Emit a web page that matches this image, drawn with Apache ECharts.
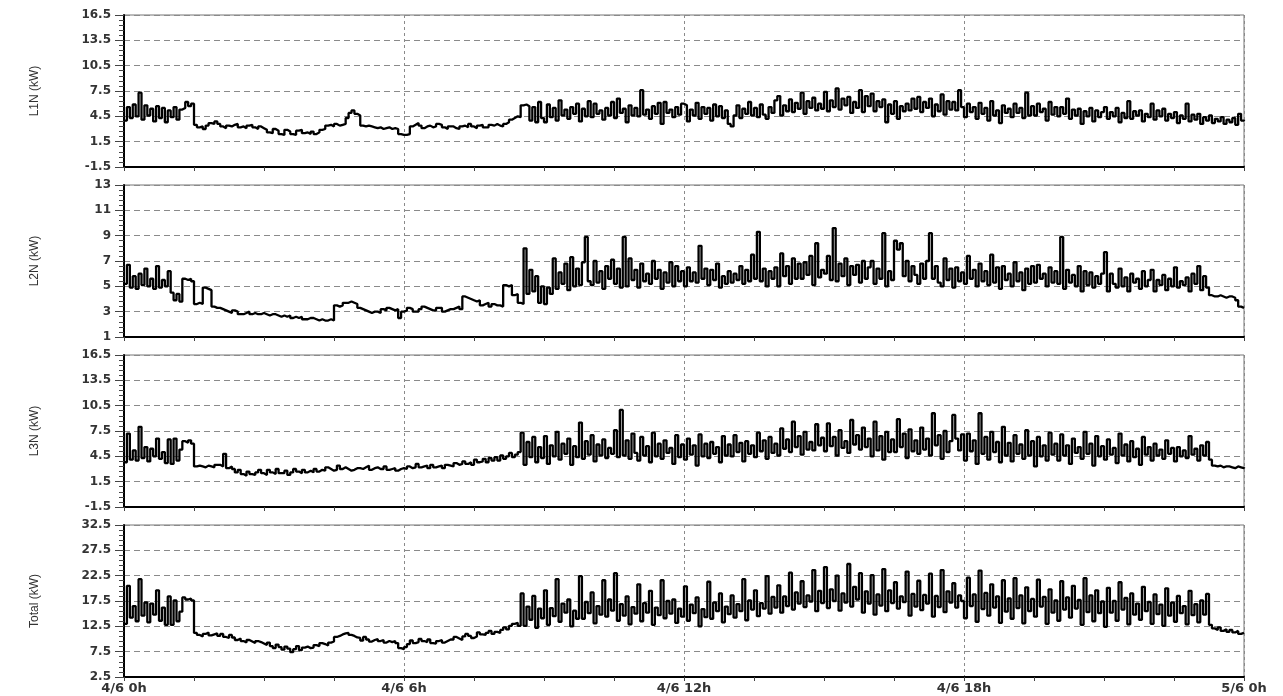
<!DOCTYPE html>
<html>
<head>
<meta charset="utf-8">
<script src="https://cdn.jsdelivr.net/npm/echarts@6/dist/echarts.min.js"></script>
<style>
html,body{margin:0;padding:0;background:#fff;}
#chart{width:1283px;height:696px;}
</style>
</head>
<body>
<div id="chart"></div>
<script>
// x tick labels (hours 0,6,12,18,24)
const xTickHours = [0, 6, 12, 18, 24];
const xTickLabels = ['4/6 0h', '4/6 6h', '4/6 12h', '4/6 18h', '5/6 0h'];
const panelNames = ['L1N (kW)', 'L2N (kW)', 'L3N (kW)', 'Total (kW)'];
const yMins = [-1.5, 1, -1.5, 2.5];
const yMaxs = [16.5, 13, 16.5, 32.5];
const yIntervals = [3, 2, 3, 5];
const samplesPerHour = 16;

const l1n = [
 4.0,5.6,4.3,5.9,4.5,7.3,4.1,5.8,4.6,5.4,3.9,5.7,4.3,5.5,3.8,5.2,
 4.4,5.6,4.1,5.3,5.5,6.2,5.7,6.0,3.5,3.2,3.3,3.0,3.4,3.7,3.6,3.9,
 3.6,3.3,3.1,3.4,3.3,3.5,3.6,3.2,3.3,3.1,3.4,3.5,3.2,3.0,3.3,3.1,
 2.9,2.6,2.5,3.0,2.8,2.4,2.3,2.9,2.7,2.4,2.3,2.8,2.9,2.5,2.6,2.4,
 2.7,2.4,2.6,2.9,3.0,3.4,3.5,3.3,3.6,3.4,3.5,3.6,4.3,4.9,5.2,4.8,
 4.6,3.4,3.3,3.4,3.3,3.2,3.1,3.2,3.0,3.1,3.2,3.0,3.1,3.0,2.4,2.3,
 2.3,2.4,3.3,3.5,3.7,3.4,3.1,3.3,3.4,3.2,3.3,3.6,3.5,3.2,3.0,3.3,
 3.3,3.1,3.0,3.3,3.4,3.2,3.6,3.3,3.1,3.4,3.5,3.2,3.2,3.5,3.4,3.6,
 3.4,3.3,3.6,3.8,4.1,4.3,4.5,4.4,5.8,5.9,5.7,4.0,5.6,3.8,6.2,4.3,
 3.8,5.9,4.4,5.5,4.0,6.4,4.6,5.3,4.2,5.6,4.8,6.0,3.9,5.4,4.5,6.3,
 4.4,6.0,4.8,5.2,4.1,5.5,4.6,6.2,4.3,6.6,4.9,5.4,3.8,5.8,4.6,5.5,
 4.5,7.6,4.7,5.3,4.2,5.7,4.8,6.1,3.6,6.2,4.9,5.3,4.4,5.6,4.7,6.0,
 5.8,3.9,5.3,4.6,6.1,4.2,5.6,4.8,5.5,4.0,5.9,4.5,5.7,4.3,5.2,3.6,
 3.3,4.6,5.8,4.3,5.4,4.8,6.2,4.6,5.5,4.4,5.9,4.7,4.2,5.6,4.9,6.4,
 6.9,4.6,5.8,5.1,6.5,5.0,6.1,5.4,7.3,4.8,6.3,5.5,6.7,5.2,6.0,5.4,
 7.4,5.1,6.4,5.6,7.8,5.3,6.6,5.8,6.8,4.9,6.2,5.5,7.6,5.0,6.9,5.7,
 7.2,5.1,6.3,5.6,6.5,3.8,5.9,4.8,6.3,4.2,5.7,5.1,6.0,5.2,6.6,5.4,
 6.8,5.0,6.2,5.5,6.6,4.5,5.9,5.1,7.1,4.7,6.3,5.3,6.2,5.2,7.6,5.6,
 4.4,6.0,5.0,5.6,4.2,6.1,4.8,5.5,4.0,6.3,4.6,5.2,3.7,5.8,4.9,5.4,
 4.4,6.0,4.9,5.5,4.3,7.3,4.6,5.7,4.6,6.0,5.0,5.4,4.0,6.2,4.7,5.6,
 4.5,5.6,4.8,6.6,4.2,5.3,4.6,5.4,3.6,5.1,4.5,5.5,3.9,5.2,4.4,5.0,
 5.6,4.2,5.0,4.5,5.5,3.8,4.9,4.3,6.3,4.2,5.1,4.6,5.2,3.9,4.8,4.4,
 6.0,4.1,5.2,4.5,5.4,4.0,4.8,4.3,5.0,3.7,4.6,4.2,6.0,3.9,4.7,4.1,
 4.8,3.6,4.4,4.0,4.6,3.7,4.2,3.9,4.4,3.6,4.1,3.8,4.3,3.5,4.8,4.0,
 4.1
];
const l2n = [
 5.2,6.7,4.9,5.8,4.8,6.0,5.1,6.4,5.0,5.6,4.8,6.6,4.9,5.5,5.0,6.2,
 4.5,3.9,4.4,3.8,5.6,5.5,5.6,5.4,3.6,3.7,3.6,4.9,4.8,4.7,3.4,3.3,
 3.3,3.2,3.1,3.0,2.9,3.1,3.0,2.8,2.8,2.9,3.0,2.8,2.9,2.8,2.8,2.9,
 2.8,2.7,2.8,2.8,2.7,2.6,2.7,2.6,2.7,2.5,2.6,2.5,2.6,2.4,2.4,2.5,
 2.5,2.4,2.3,2.4,2.3,2.3,2.4,2.3,3.5,3.4,3.5,3.7,3.7,3.8,3.7,3.6,
 3.3,3.2,3.1,3.0,2.9,3.0,3.0,2.9,3.2,3.1,3.3,3.2,3.1,3.2,2.5,3.0,
 3.1,3.3,3.2,3.0,3.0,3.2,3.4,3.3,3.2,3.1,3.1,3.3,3.3,3.0,3.1,3.2,
 3.2,3.3,3.4,3.2,4.2,4.1,4.0,3.9,3.8,3.9,3.5,3.6,3.7,3.4,3.6,3.5,
 3.5,3.4,5.1,5.0,5.1,4.3,4.4,3.7,3.6,8.0,4.4,6.3,4.6,5.8,3.7,5.0,
 3.6,4.9,4.4,7.2,4.8,6.1,5.2,6.8,4.7,7.3,5.0,6.4,5.1,6.9,8.9,5.4,
 5.1,7.0,5.3,6.2,4.8,6.6,5.6,7.1,5.2,6.4,4.9,8.9,5.0,7.2,5.5,6.3,
 4.9,6.8,5.4,6.0,5.2,7.0,5.6,6.3,4.8,6.1,5.3,6.9,5.0,6.6,5.4,6.2,
 5.0,6.5,5.4,6.1,5.3,8.2,5.6,6.4,5.1,6.3,5.5,6.8,4.9,5.8,5.2,6.2,
 5.3,6.0,5.5,6.6,5.2,6.3,5.4,7.5,5.6,9.3,5.4,6.4,5.0,6.2,5.6,6.5,
 5.0,7.6,5.8,6.6,5.2,7.2,5.6,6.8,5.6,6.9,5.9,7.4,5.1,8.4,5.7,6.3,
 6.0,7.4,5.5,9.6,5.4,6.8,5.8,7.2,5.1,6.6,5.9,6.7,5.3,7.0,5.6,6.5,
 7.0,5.2,6.4,5.6,9.2,5.0,6.2,5.5,8.6,7.9,8.4,5.8,7.0,5.4,6.6,5.9,
 5.2,6.8,5.6,7.0,9.2,5.6,6.6,5.3,5.0,7.2,5.5,6.4,4.9,6.5,5.4,6.1,
 5.2,7.4,5.6,6.3,5.0,6.8,5.4,6.2,5.1,7.5,5.3,6.5,4.8,6.6,5.5,6.0,
 5.0,6.9,5.4,6.1,4.7,6.4,5.2,6.6,5.3,6.7,5.6,6.0,5.0,6.5,5.3,6.2,
 5.2,8.9,4.8,6.3,5.3,5.9,5.0,6.6,4.6,6.2,5.1,6.1,4.9,5.8,5.2,6.0,
 7.7,4.6,6.0,5.2,4.9,6.4,5.0,5.7,4.6,6.0,5.3,5.6,4.8,6.2,5.0,5.5,
 6.3,4.6,5.5,5.1,5.9,4.7,5.6,5.0,6.5,4.9,5.4,5.1,5.7,4.6,6.0,5.2,
 6.6,4.7,5.8,4.9,4.3,4.2,4.2,4.3,4.2,4.1,4.2,4.2,4.1,3.9,3.4,3.3,
 3.3
];
const l3n = [
 3.8,7.2,4.1,5.2,4.0,8.0,4.3,5.6,3.9,5.4,4.5,6.6,4.2,5.0,3.7,6.5,
 3.6,6.6,4.0,5.3,6.3,6.1,6.4,6.0,3.3,3.4,3.3,3.2,3.4,3.3,3.2,3.5,
 3.5,3.3,4.8,3.1,3.3,3.0,2.6,2.9,2.4,2.2,2.7,2.4,2.3,2.6,2.9,2.5,
 2.3,2.9,2.6,2.4,3.0,2.5,2.5,2.8,2.3,2.6,3.0,2.7,2.5,2.9,2.6,2.8,
 2.6,3.0,2.7,2.9,2.8,3.2,3.0,2.8,2.9,3.4,3.0,3.2,3.0,2.8,2.9,3.1,
 3.1,3.0,3.2,3.4,2.9,3.1,3.2,3.0,3.0,3.3,2.9,3.0,3.1,2.8,3.0,3.1,
 3.0,3.3,3.1,3.2,3.6,3.2,3.3,3.4,3.1,3.5,3.2,3.3,3.4,3.1,3.5,3.4,
 3.3,3.7,3.5,3.6,3.9,3.6,3.8,3.5,4.1,3.8,3.9,4.2,3.8,4.3,4.0,4.4,
 4.0,4.6,4.2,4.5,4.9,4.4,4.7,5.0,7.3,3.5,6.2,4.4,6.8,3.8,5.6,4.3,
 6.9,3.6,5.8,4.5,7.4,4.1,6.0,4.8,6.6,3.5,5.7,4.4,8.5,4.2,6.3,4.7,
 7.0,3.9,5.9,4.6,6.5,4.3,5.5,4.8,7.6,4.4,10.0,4.6,6.4,4.2,7.2,4.9,
 4.0,6.8,4.6,5.7,3.8,7.3,4.5,6.0,4.2,6.4,4.9,5.5,3.6,7.0,4.4,5.9,
 4.1,6.6,4.7,5.8,3.4,7.1,4.5,6.0,4.3,6.2,4.8,5.6,3.8,6.9,4.6,5.9,
 4.5,7.0,5.0,6.1,3.9,6.3,4.8,5.8,4.4,7.3,5.1,6.4,4.2,6.8,4.9,6.0,
 4.6,7.8,5.4,6.5,5.0,8.6,5.6,6.9,4.7,7.4,5.3,6.2,5.2,8.3,5.8,6.7,
 5.1,8.4,5.7,6.8,4.6,7.6,5.5,6.3,4.9,8.8,5.9,7.0,5.3,7.9,5.6,6.6,
 4.5,8.6,5.2,6.9,4.1,7.4,5.0,6.5,5.0,8.9,5.6,7.2,4.3,7.7,5.1,6.4,
 4.8,7.9,5.3,6.6,4.6,9.6,5.8,7.0,4.2,7.5,5.0,6.3,9.4,6.6,5.2,7.1,
 4.0,7.2,5.1,6.4,3.6,9.6,4.8,6.8,4.1,7.4,5.0,6.2,3.8,8.0,4.6,6.1,
 3.9,7.0,4.8,5.9,4.2,7.6,4.6,6.3,3.3,6.8,4.5,5.8,4.0,7.3,4.7,6.0,
 4.0,7.1,4.6,5.8,3.6,6.6,4.9,5.6,4.2,7.4,4.8,6.0,3.4,6.9,4.5,5.7,
 4.1,6.5,4.7,5.5,3.7,7.2,4.6,5.9,3.9,6.3,4.4,5.4,3.5,6.8,4.7,5.6,
 4.0,6.0,4.6,5.3,4.2,6.4,4.8,5.5,3.9,5.6,4.5,5.2,4.3,6.9,4.7,5.4,
 4.0,5.8,4.6,6.2,4.1,3.4,3.3,3.4,3.2,3.3,3.3,3.2,3.1,3.3,3.2,3.1,
 3.2
];
const total = [
 13.0,20.5,14.2,16.5,13.5,21.8,14.6,17.2,13.3,17.0,14.8,19.6,13.6,16.2,12.8,18.4,
 12.8,17.6,13.5,15.4,18.2,17.8,18.0,17.6,11.2,10.8,10.5,11.0,11.3,10.7,10.9,11.1,
 10.6,11.0,10.4,10.2,10.8,10.3,9.8,10.1,9.6,9.3,9.8,9.5,9.2,9.6,9.4,9.1,
 8.8,9.3,8.6,8.2,8.9,8.4,7.9,8.5,8.1,7.4,8.0,8.6,7.8,8.3,8.5,8.2,
 8.3,8.8,8.6,9.2,9.0,8.7,9.3,9.5,10.4,10.6,10.9,11.1,11.2,10.8,10.6,10.3,
 10.2,9.7,10.4,9.9,9.5,9.8,10.0,9.6,9.8,9.3,9.6,9.4,9.6,9.2,8.2,8.0,
 8.4,9.0,9.7,9.2,9.4,10.0,9.6,9.4,9.9,9.2,9.1,9.6,9.8,9.3,9.6,9.9,
 9.9,10.4,10.1,9.8,10.5,11.0,10.6,10.2,10.5,11.3,10.9,10.8,11.2,11.6,11.0,11.4,
 11.2,11.8,12.3,11.9,12.6,13.0,13.2,12.6,19.0,12.6,16.4,13.8,18.5,12.2,16.0,14.1,
 19.6,12.8,16.1,14.5,21.8,13.4,17.0,15.2,17.8,12.5,15.6,14.0,22.4,14.0,17.3,15.1,
 19.2,13.1,16.5,14.8,21.6,14.4,17.8,15.6,23.0,13.6,16.9,14.6,18.4,12.9,16.3,15.0,
 20.8,13.5,17.1,15.2,19.5,12.8,16.2,14.7,21.6,14.1,17.5,15.0,17.8,13.2,16.0,14.4,
 20.4,13.6,16.8,15.1,18.2,12.5,15.9,14.3,21.3,14.0,17.2,15.5,19.0,13.3,16.4,14.9,
 18.6,14.2,16.9,15.5,21.8,13.7,17.6,15.8,19.6,14.5,17.1,16.0,22.4,15.0,18.3,16.2,
 20.6,15.2,18.4,16.5,23.1,15.8,19.2,17.0,21.4,16.3,18.6,17.4,23.6,15.5,19.5,17.1,
 24.2,16.1,19.8,17.5,22.5,15.6,19.0,17.2,24.8,16.4,20.3,17.8,23.0,15.2,19.4,17.0,
 22.6,14.8,18.8,16.6,23.8,15.5,19.6,17.1,21.2,16.0,18.4,17.3,23.3,14.6,18.9,16.4,
 21.5,15.7,18.7,17.0,22.9,14.4,18.5,16.3,23.6,15.3,19.4,17.2,21.0,16.2,18.6,17.5,
 14.1,22.1,16.5,18.8,13.4,23.5,15.9,19.1,14.6,20.8,16.2,18.4,13.2,21.6,15.4,18.0,
 14.0,22.0,16.1,18.6,13.1,20.2,15.5,17.9,14.4,21.7,16.4,18.3,13.0,19.8,15.2,17.6,
 13.6,21.4,15.8,18.2,14.2,20.5,16.0,17.7,12.8,22.0,15.3,18.6,13.5,19.6,15.1,17.4,
 12.4,20.1,15.2,17.5,13.6,21.2,15.8,18.1,12.9,19.0,14.8,17.0,13.8,20.3,15.5,17.3,
 13.0,18.8,14.9,16.8,12.6,20.0,14.6,17.2,13.4,18.5,15.1,16.5,12.9,19.5,14.7,16.9,
 13.3,17.6,14.8,18.9,12.8,12.1,11.8,12.3,11.6,11.9,11.4,11.8,11.3,11.6,11.0,11.2,
 11.2
];
const seriesValues = [l1n, l2n, l3n, total];

const tops = [15, 185, 355, 525];
const panelH = 152;
const LEFT = 124, RIGHT = 39;

function toPairs(arr) { return arr.map((v, i) => [i / samplesPerHour, v]); }

const grids = [], xAxes = [], yAxes = [], series = [];
for (let p = 0; p < 4; p++) {
  grids.push({ left: LEFT, right: RIGHT, top: tops[p], height: panelH, show: true, borderColor: '#777', borderWidth: 1, backgroundColor: 'transparent' });
  xAxes.push({
    gridIndex: p, type: 'value', min: 0, max: 24, interval: 6,
    axisLine: { show: true, onZero: false, lineStyle: { color: '#000', width: 2 } },
    axisTick: { show: true, length: 4, lineStyle: { color: '#444' } },
    minorTick: { show: true, splitNumber: 4, length: 4, lineStyle: { color: '#444' } },
    splitLine: { show: true, lineStyle: { color: '#8a8a8a', type: [3, 3], width: 1 } },
    axisLabel: {
      show: p === 3, margin: 5, color: '#333', fontFamily: 'DejaVu Sans', fontWeight: 'bold', fontSize: 13,
      formatter: v => { const k = xTickHours.indexOf(v); return k >= 0 ? xTickLabels[k] : ''; }
    }
  });
  yAxes.push({
    gridIndex: p, type: 'value', min: yMins[p], max: yMaxs[p], interval: yIntervals[p],
    name: panelNames[p], nameLocation: 'middle', nameGap: 83, nameRotate: 90,
    nameTextStyle: { color: '#333', fontFamily: 'Liberation Sans', fontSize: 12 },
    axisLine: { show: true, lineStyle: { color: '#000', width: 2 } },
    axisTick: { show: true, length: 9, lineStyle: { color: '#444' } },
    minorTick: { show: true, splitNumber: 5, length: 5, lineStyle: { color: '#444' } },
    splitLine: { show: true, lineStyle: { color: '#8a8a8a', type: [6, 4], width: 1 } },
    axisLabel: { margin: 13, color: '#333', fontFamily: 'DejaVu Sans', fontWeight: 'bold', fontSize: 12 }
  });
  series.push({
    type: 'line', xAxisIndex: p, yAxisIndex: p, step: 'end', showSymbol: false,
    data: toPairs(seriesValues[p]),
    lineStyle: { color: '#000', width: 2.3 }, silent: true
  });
}

const chart = echarts.init(document.getElementById('chart'), null, { renderer: 'canvas' });
chart.setOption({ animation: false, backgroundColor: '#fff', grid: grids, xAxis: xAxes, yAxis: yAxes, series: series });
</script>
</body>
</html>
